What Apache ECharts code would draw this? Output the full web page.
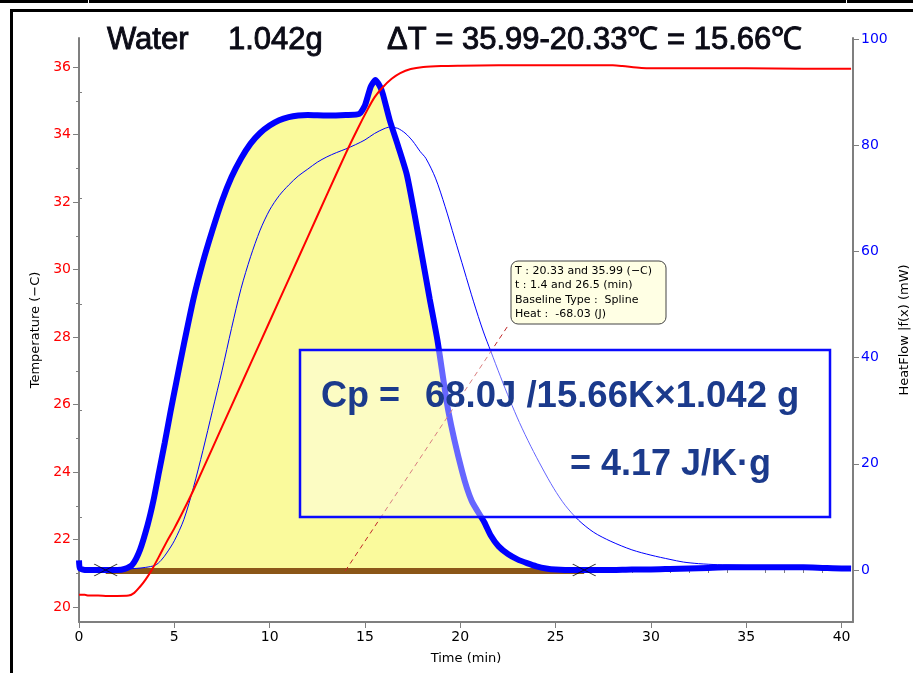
<!DOCTYPE html>
<html><head><meta charset="utf-8">
<style>html,body{margin:0;padding:0;background:#fff}#c{width:913px;height:673px}</style>
<script src="https://cdn.jsdelivr.net/npm/echarts@6.0.0/dist/echarts.min.js"></script>
</head><body><div id="c"></div>
<script>
// ---- axis ticks ----
const timeTicks = [0, 5, 10, 15, 20, 25, 30, 35, 40];
const timeMinorTicks = [1,2,3,4,6,7,8,9,11,12,13,14,16,17,18,19,21,22,23,24,26,27,28,29,31,32,33,34,36,37,38,39];
const tempTicks = [20, 22, 24, 26, 28, 30, 32, 34, 36];
const tempMinorTicks = [21, 23, 25, 27, 29, 31, 33, 35];
const heatTicks = [0, 20, 40, 60, 80, 100];
const heatMinorTicks = [10, 30, 50, 70, 90];

// ---- series data: [time (min), value] ----
const temperature = [
  [0,20.36],[0.3,20.36],[0.5,20.34],[1,20.34],[1.5,20.33],[2,20.33],[2.6,20.34],[2.9,20.42],[3.2,20.6],
  [3.5,20.82],[3.8,21.08],[4.2,21.5],[4.6,21.93],[5.0,22.33],[5.5,22.88],[6,23.46],[7,24.71],[8,25.96],
  [9,27.21],[10,28.46],[11,29.71],[12,30.96],[13,32.21],[14,33.45],[14.6,34.15],[15.1,34.7],[15.5,35.1],
  [15.9,35.38],[16.4,35.65],[16.85,35.82],[17.4,35.94],[18.06,36.0],[19,36.03],[20,36.04],[22,36.05],
  [24,36.05],[26,36.05],[28,36.05],[28.5,36.03],[29.5,35.97],[31,35.96],[35,35.96],[38,35.95],[40.5,35.95]
];
const heatFlow = [
  [0,1.8],[0.05,0.3],[0.3,0],[1,0],[1.5,0],[2,0],[2.4,0.2],[2.8,1],[3.2,3.8],[3.6,8.5],[3.9,13],[4.2,18.5],
  [4.5,24],[4.8,29.8],[5.1,35.3],[5.5,42.5],[6.0,51],[6.5,58],[7.0,64],[7.5,69.5],[8.0,74],[8.5,77.5],[9.0,80.3],[9.5,82.3],
  [10.0,83.7],[10.5,84.7],[11,85.3],[11.5,85.6],[12,85.7],[13,85.6],[14,85.7],[14.7,85.9],[15.0,87.5],[15.3,91],
  [15.55,92.3],[15.8,91],[15.95,89.5],[16.3,84.7],[16.75,79.7],[17.2,74.4],[17.6,67],[18.0,59],[18.4,51],
  [18.8,43.3],[19.37,30],[20.1,18.5],[20.6,13],[21.26,9],[21.6,6.5],[22,4.5],[22.5,3],[23,2],[23.5,1.3],
  [24,0.7],[24.5,0.3],[25,0.1],[26,0],[27,0],[28,0],[29,0.1],[30,0.1],[31,0.2],[32,0.3],[33,0.4],[34,0.5],
  [35,0.5],[36,0.5],[37,0.5],[38,0.5],[39,0.4],[40,0.3],[40.5,0.3]
];
const heatFlowThin = [
  [0,0.3],[1,0.1],[2,0.1],[2.5,0.2],[3.0,0.3],[3.5,0.5],[4.0,0.9],[4.3,1.8],[4.6,3.2],[5.0,5.5],[5.5,9.5],
  [6.0,15.5],[6.5,22.5],[7.0,30],[7.5,37.5],[8.0,45.5],[8.5,53],[9.0,59],[9.5,64],[10.0,67.8],[10.5,70.5],
  [11,72.5],[11.5,74.2],[12,75.5],[12.5,76.8],[13,77.8],[13.5,78.6],[14,79.3],[14.5,80.1],[15,81],[15.5,82.2],
  [16,83.1],[16.3,83.4],[16.7,83.2],[17.1,82.3],[17.5,80.8],[17.9,78.8],[18.2,77.5],[18.7,73.8],[19.2,68.5],
  [19.7,62.5],[20.2,56.5],[20.7,50.5],[21.2,45],[21.6,41.2],[22.1,36.5],[22.6,32],[23.1,27.8],[23.7,23.3],
  [24.3,19.2],[24.9,15.4],[25.5,12.2],[26.2,9.4],[27,7.1],[27.9,5.4],[29,3.8],[30,2.8],[31,2],[31.7,1.5],
  [32.5,1.2],[33.5,1.0],[34.5,0.9],[35.5,0.8],[37,0.7],[38.5,0.6],[40.5,0.6]
];
const integrationLimits = [1.4, 26.5];
const baselineValue = -0.2;
const limitMarkers = [[1.4, 0], [26.5, 0]];
const leaderLine = [[13.96, -0.2], [22.52, 46.1]];

// ---- derived ----
const fillData = [[integrationLimits[0], 0]]
  .concat(heatFlow.filter(p => p[0] > integrationLimits[0] && p[0] < integrationLimits[1]))
  .concat([[integrationLimits[1], 0]]);
const baselineData = [[integrationLimits[0], baselineValue], [integrationLimits[1], baselineValue]];

const AX = '#7f7f7f';
const FONT = 'DejaVu Sans';
const chart = echarts.init(document.getElementById('c'), null, {renderer: 'canvas'});

function minorAxis(extra) {
  return Object.assign({
    type: 'value', axisLine: {show: false}, axisLabel: {show: false}, splitLine: {show: false},
    axisTick: {show: true, length: 3, lineStyle: {color: AX, width: 1}}
  }, extra);
}

const option = {
  animation: false,
  backgroundColor: '#fff',
  grid: {left: 79, right: 60, top: 38, bottom: 51, containLabel: false, outerBoundsMode: 'none'},
  xAxis: [
    {type: 'value', min: 0, max: 40.6, position: 'bottom',
     axisLine: {show: true, onZero: false, lineStyle: {color: AX, width: 2}},
     axisTick: {show: true, customValues: timeTicks, length: 6, lineStyle: {color: AX, width: 1}},
     axisLabel: {customValues: timeTicks, color: '#000', fontFamily: FONT, fontSize: 14, margin: 8},
     splitLine: {show: false},
     name: 'Time (min)', nameLocation: 'middle', nameGap: 30,
     nameTextStyle: {color: '#000', fontFamily: FONT, fontSize: 13}},
    minorAxis({min: 0, max: 40.6, position: 'bottom', axisTick: {show: true, customValues: timeMinorTicks, length: 3, lineStyle: {color: AX, width: 1}}})
  ],
  yAxis: [
    {type: 'value', min: 19.556, max: 36.86, position: 'left',
     axisLine: {show: true, onZero: false, lineStyle: {color: AX, width: 2}},
     axisTick: {show: true, customValues: tempTicks, length: 6, lineStyle: {color: AX, width: 1}},
     axisLabel: {customValues: tempTicks, color: '#ff0000', fontFamily: FONT, fontSize: 14, margin: 8},
     splitLine: {show: false},
     name: 'Temperature (\u2212C)', nameLocation: 'middle', nameGap: 35,
     nameTextStyle: {color: '#000', fontFamily: FONT, fontSize: 13}},
    {type: 'value', min: -9.79, max: 100.19, position: 'right',
     axisLine: {show: true, onZero: false, lineStyle: {color: AX, width: 2}},
     axisTick: {show: true, customValues: heatTicks, length: 6, lineStyle: {color: AX, width: 1}},
     axisLabel: {customValues: heatTicks, color: '#0000ff', fontFamily: FONT, fontSize: 14, margin: 8},
     splitLine: {show: false},
     name: 'HeatFlow |f(x) (mW)', nameLocation: 'middle', nameGap: 45,
     nameTextStyle: {color: '#000', fontFamily: FONT, fontSize: 13}},
    minorAxis({min: 19.556, max: 36.86, position: 'left', axisTick: {show: true, customValues: tempMinorTicks, length: 3, lineStyle: {color: AX, width: 1}}}),
    minorAxis({min: -9.79, max: 100.19, position: 'right', axisTick: {show: true, customValues: heatMinorTicks, length: 3, lineStyle: {color: AX, width: 1}}})
  ],
  series: [
    {name: 'area', type: 'line', xAxisIndex: 0, yAxisIndex: 1, data: fillData, showSymbol: false, smooth: 0.2,
     lineStyle: {width: 0}, areaStyle: {color: '#fafa9c', opacity: 1, origin: 0}, z: 1, silent: true},
    {name: 'baseline', type: 'line', xAxisIndex: 0, yAxisIndex: 1, data: baselineData, showSymbol: false,
     lineStyle: {color: '#8b5618', width: 6}, z: 2, silent: true},
    {name: 'heatflow', type: 'line', xAxisIndex: 0, yAxisIndex: 1, data: heatFlow, showSymbol: false, smooth: 0.2,
     lineStyle: {color: '#0000ff', width: 6}, z: 3},
    {name: 'heatflowThin', type: 'line', xAxisIndex: 0, yAxisIndex: 1, data: heatFlowThin, showSymbol: false, smooth: 0.3,
     lineStyle: {color: '#0000ff', width: 1}, z: 4},
    {name: 'leader', type: 'line', xAxisIndex: 0, yAxisIndex: 1, data: leaderLine, showSymbol: false,
     lineStyle: {color: '#c0282a', width: 1, type: [5, 4]}, z: 5},
    {name: 'temperature', type: 'line', xAxisIndex: 0, yAxisIndex: 0, data: temperature, showSymbol: false, smooth: 0.3,
     lineStyle: {color: '#ff0000', width: 2}, z: 6},
    {name: 'limits', type: 'scatter', xAxisIndex: 0, yAxisIndex: 1, data: limitMarkers,
     symbol: 'path://M0 0L23 12M23 0L0 12', symbolSize: [23, 12],
     itemStyle: {color: 'rgba(0,0,0,0)', borderColor: '#000', borderWidth: 1}, z: 7}
  ],
  graphic: [
    {type: 'rect', shape: {x: 0, y: 0, width: 913, height: 3}, style: {fill: '#000'}, z: 200},
    {type: 'rect', shape: {x: 88, y: 0, width: 1, height: 9}, style: {fill: '#fff'}, z: 201},
    {type: 'rect', shape: {x: 846, y: 0, width: 1, height: 9}, style: {fill: '#fff'}, z: 201},
    {type: 'rect', shape: {x: 10, y: 9, width: 903, height: 3}, style: {fill: '#000'}, z: 200},
    {type: 'rect', shape: {x: 10, y: 9, width: 3, height: 664}, style: {fill: '#000'}, z: 200},
    {type: 'text', x: 107, y: 40, style: {text: 'Water', font: '31px "Liberation Sans"', fill: '#0b0b16', verticalAlign: 'middle', stroke: '#0b0b16', lineWidth: 0.9}, z: 200},
    {type: 'text', x: 228, y: 40, style: {text: '1.042g', font: '31px "Liberation Sans"', fill: '#0b0b16', verticalAlign: 'middle', stroke: '#0b0b16', lineWidth: 0.9}, z: 200},
    {type: 'text', x: 387, y: 40, style: {text: '\u0394T = 35.99-20.33\u2103 = 15.66\u2103', font: '31px "Liberation Sans"', fill: '#0b0b16', verticalAlign: 'middle', stroke: '#0b0b16', lineWidth: 0.9}, z: 200},
    {type: 'rect', shape: {x: 511, y: 261, width: 155, height: 63, r: 7}, style: {fill: '#ffffe4', stroke: '#444', lineWidth: 1}, z: 150},
    {type: 'text', x: 515, y: 271, style: {text: 'T : 20.33 and 35.99 (\u2212C)', font: '11px "DejaVu Sans"', fill: '#000', verticalAlign: 'middle'}, z: 151},
    {type: 'text', x: 515, y: 285.5, style: {text: 't : 1.4 and 26.5 (min)', font: '11px "DejaVu Sans"', fill: '#000', verticalAlign: 'middle'}, z: 151},
    {type: 'text', x: 515, y: 300, style: {text: 'Baseline Type :  Spline', font: '11px "DejaVu Sans"', fill: '#000', verticalAlign: 'middle'}, z: 151},
    {type: 'text', x: 515, y: 314.5, style: {text: 'Heat :  -68.03 (J)', font: '11px "DejaVu Sans"', fill: '#000', verticalAlign: 'middle'}, z: 151},
    {type: 'rect', shape: {x: 300, y: 350, width: 530, height: 167}, style: {fill: 'rgba(255,255,255,0.4)', stroke: '#0a0aff', lineWidth: 2.5}, z: 150},
    {type: 'text', x: 321, y: 397, style: {text: 'Cp =', font: 'bold 36px "Liberation Sans"', fill: '#1b3a8c', verticalAlign: 'middle'}, z: 151},
    {type: 'text', x: 425, y: 397, style: {text: '68.0J /15.66K\u00d71.042 g', font: 'bold 36.5px "Liberation Sans"', fill: '#1b3a8c', verticalAlign: 'middle'}, z: 151},
    {type: 'text', x: 570, y: 465, style: {text: '= 4.17 J/K\u00b7g', font: 'bold 36px "Liberation Sans"', fill: '#1b3a8c', verticalAlign: 'middle'}, z: 151}
  ]
};
chart.setOption(option);
</script></body></html>
